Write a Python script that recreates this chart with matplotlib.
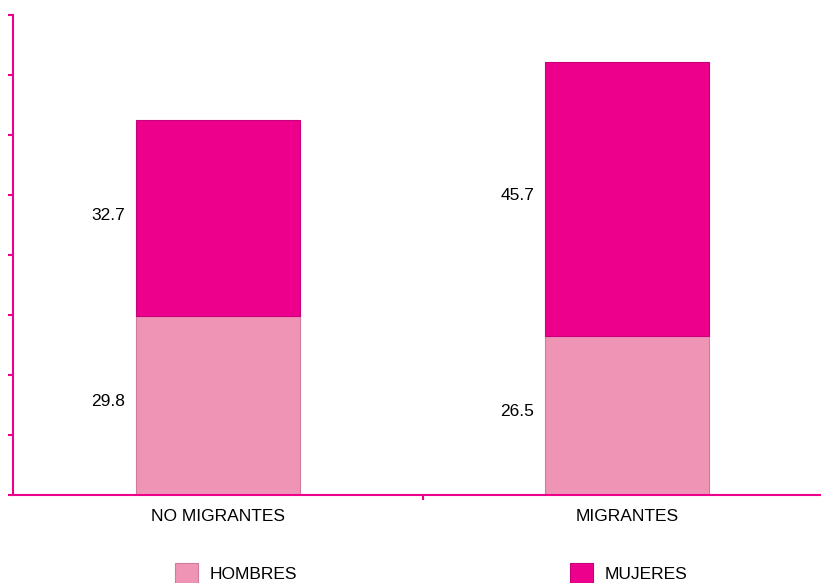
import matplotlib
matplotlib.use('Agg')
import matplotlib.pyplot as plt
import numpy as np

plt.rcParams['font.family'] = ['Liberation Sans', 'DejaVu Sans']

categories = ['NO MIGRANTES', 'MIGRANTES']
hombres = [29.8, 26.5]
mujeres = [32.7, 45.7]
series_names = ['HOMBRES', 'MUJERES']
colors = ['#F094B6', '#EC008C']
axis_color = '#EC008C'

fig = plt.figure(figsize=(8.21, 5.83), dpi=100)
ax = fig.add_axes([13/821, 88/583, 819/821, 480/583])

x = np.arange(len(categories))
w = 0.40
b1 = ax.bar(x, hombres, w, color=colors[0], edgecolor='#d07a9e', linewidth=0.8, label=series_names[0])
b2 = ax.bar(x, mujeres, w, bottom=hombres, color=colors[1], edgecolor='#c8007a', linewidth=0.8, label=series_names[1])

# value labels on the left of each segment
for i in range(len(categories)):
    ax.annotate(f'{hombres[i]:.1f}', xy=(x[i] - w/2, hombres[i]/2), xytext=(-11, 4),
                textcoords='offset pixels', ha='right', va='center', fontsize=12.5)
    ax.annotate(f'{mujeres[i]:.1f}', xy=(x[i] - w/2, hombres[i] + mujeres[i]/2), xytext=(-11, 3),
                textcoords='offset pixels', ha='right', va='center', fontsize=12.5)

ax.set_xlim(-0.5, 1.5)
ax.set_ylim(0, 80)
ax.set_yticks(np.arange(0, 81, 10))
ax.set_yticklabels([])
ax.set_xticks([0.5])
ax.set_xticklabels([''])
ax.set_xticks(x, minor=True)
ax.set_xticklabels(categories, minor=True, fontsize=12.5)
ax.tick_params(axis='x', which='minor', length=0, pad=10)
ax.tick_params(axis='both', which='major', length=3.5, width=1.5, color=axis_color, direction='out')

for s in ['top', 'right']:
    ax.spines[s].set_visible(False)
for s in ['left', 'bottom']:
    ax.spines[s].set_color(axis_color)
    ax.spines[s].set_linewidth(1.5)

fig.legend(handles=[b1, b2], labels=series_names, ncol=2, loc='center left',
           bbox_to_anchor=(175/821, 1 - 573/583), frameon=False, fontsize=12.5,
           borderpad=0, borderaxespad=0, handlelength=1.35, handleheight=1.4,
           handletextpad=0.65, columnspacing=15.7)

fig.savefig('out.png', dpi=100)
